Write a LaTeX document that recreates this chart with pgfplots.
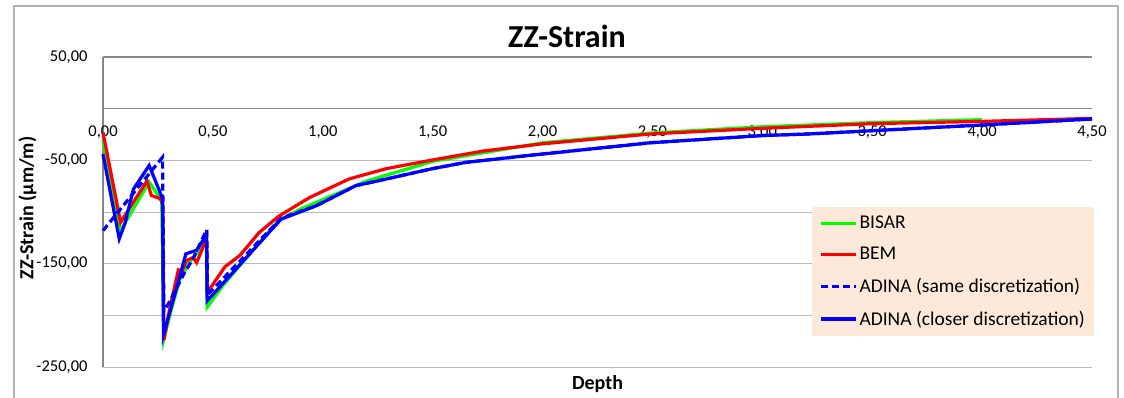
\documentclass[border=0pt]{standalone}
\usepackage{pgfplots}
\pgfplotsset{compat=1.18}
\usepackage{fontspec}
\setmainfont{Carlito}
\definecolor{legfill}{RGB}{253,233,217}
\definecolor{gridgray}{RGB}{185,185,185}
\definecolor{axgray}{RGB}{134,134,134}
\definecolor{xgreen}{RGB}{0,255,0}
\definecolor{xred}{RGB}{255,0,0}
\definecolor{xblue}{RGB}{0,0,255}
\begin{document}
\begin{tikzpicture}
\path[use as bounding box] (0pt,0pt) rectangle (1124pt,397pt);
\draw[color=black!30, line width=1.2pt] (14pt,-3pt) -- (14pt,391pt) -- (1118pt,391pt) -- (1118pt,-3pt);
\begin{axis}[
  at={(103pt,30pt)}, anchor=south west,
  scale only axis, width=989pt, height=310pt,
  xmin=0, xmax=4.5, ymin=-250, ymax=50,
  axis x line*=middle, axis y line*=left,
  hide obscured x ticks=false,
  hide obscured y ticks=false,
  x axis line style={draw=axgray, line width=1.6pt},
  y axis line style={draw=axgray, line width=1.6pt},
  major tick length=0pt,
  xtick={0,0.5,1,1.5,2,2.5,3,3.5,4,4.5},
  xticklabels={{0,00},{0,50},{1,00},{1,50},{2,00},{2,50},{3,00},{3,50},{4,00},{4,50}},
  ytick={-250,-200,-150,-100,-50,0,50},
  yticklabels={{-250,00},{},{-150,00},{},{-50,00},{},{50,00}},
  xticklabel style={font=\fontsize{16.5}{19}\selectfont, anchor=north, yshift=-14pt},
  yticklabel style={font=\fontsize{16.5}{19}\selectfont, anchor=east, xshift=-12pt},
  ymajorgrids, major grid style={draw=gridgray, line width=1pt},
  clip=false,
  legend cell align=left,
  legend style={at={(0.717,0.516)}, anchor=north west, fill=legfill, draw=none,
    font=\fontsize{19.5}{23}\selectfont, row sep=13pt, inner xsep=7pt, inner ysep=7pt},
  legend image code/.code={\draw[#1, line width=3.2pt] (0pt,0pt) -- (35pt,0pt);},
]
\draw[color=axgray, line width=1.6pt] (axis cs:0,50) -- (axis cs:4.5,50);
\addplot[xgreen, line width=3.2pt] coordinates {
(0,-31) (0.08,-118) (0.21,-71) (0.267,-89) (0.277,-223) (0.31,-195) (0.35,-165)
(0.40,-147) (0.471,-128) (0.474,-192) (0.55,-170) (0.65,-145) (0.80,-108)
(0.90,-97) (1.00,-88) (1.20,-70) (1.50,-51) (2.00,-33) (2.50,-23.5) (3.00,-17.5)
(3.50,-13.5) (4.00,-10.6)};
\addlegendentry{BISAR}
\addplot[xred, line width=3.2pt] coordinates {
(0,-23) (0.08,-110) (0.20,-70) (0.22,-84) (0.26,-87) (0.272,-92) (0.277,-224)
(0.305,-192) (0.343,-156) (0.36,-157) (0.38,-147) (0.41,-144) (0.426,-149)
(0.471,-126) (0.474,-178) (0.555,-153) (0.623,-142) (0.71,-120) (0.80,-104)
(0.94,-86) (1.12,-68) (1.29,-58) (1.49,-50) (1.73,-41) (2.00,-34) (2.49,-24.5)
(3.00,-19) (3.50,-14.5) (4.00,-12.3) (4.50,-9.4)};
\addlegendentry{BEM}
\addplot[xblue, line width=3.2pt, dash pattern=on 7pt off 4pt] coordinates {
(0,-118) (0.271,-47) (0.277,-196) (0.305,-186) (0.365,-161) (0.41,-145)
(0.472,-117) (0.476,-180) (0.81,-106) (0.97,-94) (1.15,-74.5) (1.29,-68)
(1.50,-58) (1.65,-52) (1.95,-45) (2.49,-33) (3.00,-26) (3.21,-24.5) (4.00,-15.8)
(4.50,-10)};
\addlegendentry{ADINA (same discretization)}
\addplot[xblue, line width=3.2pt] coordinates {
(0,-44) (0.074,-126) (0.10,-111) (0.138,-78) (0.21,-55) (0.271,-87) (0.275,-219)
(0.342,-168) (0.377,-140.5) (0.426,-137) (0.471,-122) (0.474,-186) (0.81,-107)
(0.97,-94) (1.15,-74.5) (1.29,-68) (1.50,-58) (1.65,-52) (1.95,-45) (2.49,-33)
(3.00,-26) (3.21,-24.5) (4.00,-15.8) (4.50,-10)};
\addlegendentry{ADINA (closer discretization)}
\end{axis}
\node[anchor=base, font=\bfseries\fontsize{32}{38}\selectfont] at (567pt,349.7pt) {ZZ-Strain};
\node[anchor=base, font=\bfseries\fontsize{20}{24}\selectfont] at (597.5pt,7.7pt) {Depth};
\node[anchor=base, rotate=90, font=\bfseries\fontsize{20}{24}\selectfont] at (33.3pt,189pt) {ZZ-Strain (µm/m)};
\end{tikzpicture}
\end{document}
